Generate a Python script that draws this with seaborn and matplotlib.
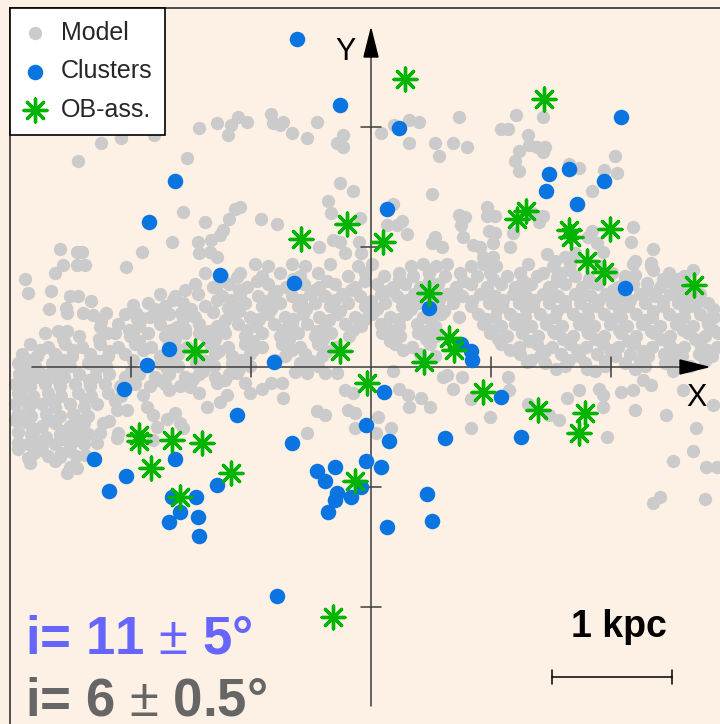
import matplotlib
matplotlib.use("Agg")
import matplotlib.pyplot as plt
from matplotlib.patches import Polygon
import seaborn as sns
import pandas as pd

# Positions in the Galactic X-Y plane, kpc, origin at the axis crossing
cluster_x = [-0.62, -0.26, 0.23, 2.08, -1.63, -1.85, 0.13, 1.48, 1.65, 1.94, 1.46, 1.72,
             -1.26, -0.64, 2.12, 0.48, -1.68, -1.87, -0.81, 0.75, 0.83, 0.84, -2.06, -1.12,
             0.11, -0.04, 0.15, 1.08, 1.25, 0.62, -0.66, -2.31, -1.63, -0.04, 0.08, -0.45,
             -0.30, -0.38, -0.08, -0.28, -0.30, -0.17, -0.36, -2.04, -1.28, -2.18, -1.66,
             -1.46, -1.59, -1.68, -1.44, -1.43, 0.47, 0.51, 0.13, -0.78]
cluster_y = [2.73, 2.18, 1.99, 2.08, 1.55, 1.21, 1.32, 1.61, 1.65, 1.55, 1.47, 1.36,
             0.77, 0.70, 0.66, 0.49, 0.15, 0.02, 0.04, 0.19, 0.13, 0.06, -0.18, -0.40,
             -0.21, -0.48, -0.62, -0.25, -0.58, -0.59, -0.63, -0.77, -0.77, -0.78, -0.83, -0.87,
             -0.83, -0.95, -1.00, -1.05, -1.11, -1.08, -1.21, -0.91, -0.98, -1.03, -1.08,
             -1.08, -1.21, -1.29, -1.25, -1.41, -1.06, -1.28, -1.33, -1.91]

ob_x = [0.28, 1.44, -0.58, -0.20, 0.10, 1.29, 1.22, 1.65, 1.67, 1.99, 1.80, 1.94, 2.69,
        0.48, -1.47, -0.26, 0.65, 0.69, 0.44, -0.03, 0.93, 1.39, 1.78, 1.73, -1.93, -1.93,
        -1.66, -1.41, -1.83, -1.17, -1.59, -0.13, -0.32]
ob_y = [2.40, 2.23, 1.07, 1.19, 1.04, 1.30, 1.23, 1.14, 1.08, 1.15, 0.88, 0.79, 0.68,
        0.62, 0.13, 0.13, 0.24, 0.14, 0.04, -0.13, -0.21, -0.36, -0.38, -0.55, -0.57, -0.62,
        -0.61, -0.63, -0.84, -0.88, -1.08, -0.95, -2.08]

model_xy = [
    # outer field, upper left
    (-1.43, 1.99), (-1.28, 2.03), (-1.17, 2.02), (-1.19, 1.93), (-1.11, 2.08), (-2.25, 1.87),
    (-2.08, 1.91), (-1.81, 1.93), (-2.44, 1.72), (-1.53, 1.74), (-1.57, 1.29), (-1.38, 1.21),
    (-1.13, 1.32), (-1.18, 1.23), (-1.23, 1.14), (-1.26, 1.10), (-1.33, 1.06), (-1.66, 1.04),
    (-1.44, 1.04), (-1.43, 0.95), (-1.34, 0.96), (-1.28, 0.92), (-1.91, 0.96), (-2.59, 0.98),
    (-2.45, 0.96), (-2.41, 0.96), (-2.57, 0.85), (-2.45, 0.85), (-2.38, 0.85), (-2.04, 0.83),
    (-2.63, 0.78), (-2.88, 0.73), (-2.86, 0.62), (-2.67, 0.63), (-2.51, 0.59), (-2.44, 0.59),
    (-2.33, 0.55), (-2.68, 0.48), (-2.54, 0.49), (-2.53, 0.45), (-2.40, 0.45), (-2.32, 0.43),
    (-2.21, 0.45), (-2.25, 0.38), (-2.26, 0.33), (-2.20, 0.28), (-1.98, 0.52), (-1.96, 0.45),
    (-1.91, 0.41), (-1.77, 0.43), (-1.58, 0.45), (-1.53, 0.49), (-1.32, 0.46), (-1.29, 0.67),
    (-1.28, 0.56), (-1.19, 0.49), (-1.15, 0.52), (-1.12, 0.75), (-2.61, 0.30), (-2.53, 0.30),
    (-1.98, 0.27), (-1.62, 0.33), (-1.55, 0.32), (-1.43, 0.28), (-1.23, 0.32),
    # outer field, upper centre
    (-1.03, 2.04), (-0.83, 2.11), (-0.82, 2.03), (-0.76, 2.02), (-0.73, 2.04), (-0.66, 1.95),
    (-0.53, 1.91), (-0.45, 2.04), (-0.23, 1.93), (-0.28, 1.87), (-0.23, 1.83), (0.08, 1.95),
    (0.19, 2.02), (0.32, 2.06), (0.40, 2.04), (0.32, 1.87), (0.53, 1.87), (0.57, 1.76),
    (0.68, 1.87), (0.73, 2.08), (0.80, 1.83), (-0.26, 1.53), (-0.15, 1.47), (-0.36, 1.38),
    (-0.33, 1.28), (-0.09, 1.24), (-0.92, 1.23), (-0.78, 1.19), (0.51, 1.44), (0.18, 1.36),
    (0.13, 1.18), (0.22, 1.18), (0.26, 1.22), (0.30, 1.11), (0.53, 1.08), (0.51, 1.03),
    (0.59, 1.00), (0.73, 1.27), (0.78, 1.25), (0.75, 1.18), (0.77, 1.08), (0.85, 1.02),
    (-0.43, 1.00), (-0.32, 1.06), (-0.26, 1.04), (-0.10, 1.04), (-0.22, 0.95), (-0.08, 0.95),
    (-1.09, 1.33),
    # arm towards upper right
    (1.21, 2.10), (1.43, 2.08), (1.08, 1.98), (1.14, 1.98), (1.31, 1.93), (1.32, 1.85),
    (1.38, 1.83), (1.45, 1.83), (1.43, 1.79), (1.23, 1.80), (1.20, 1.72), (1.23, 1.63),
    (1.65, 1.69), (1.73, 1.66), (2.03, 1.76), (1.94, 1.64), (2.05, 1.62), (1.84, 1.47),
    (0.97, 1.33), (0.97, 1.26), (1.03, 1.26), (1.34, 1.28), (1.43, 1.26), (1.40, 1.21),
    (0.98, 1.13), (1.03, 1.12), (1.02, 1.03), (0.91, 1.00), (1.16, 1.00), (1.18, 1.12),
    (0.93, 0.92), (1.02, 0.92), (1.01, 0.86), (2.18, 1.17), (2.17, 1.04), (2.35, 0.98),
    (2.20, 0.88), (2.33, 0.87), (2.35, 0.81), (2.43, 0.73), (2.55, 0.73), (2.68, 0.81),
    (2.72, 0.54), (1.47, 0.94), (1.53, 0.88), (1.62, 0.92), (1.70, 0.95), (1.84, 1.13),
    (1.81, 1.08), (1.88, 1.03), (1.93, 0.96), (1.43, 0.78), (1.55, 0.75), (1.65, 0.81),
    (1.85, 0.70), (2.20, 0.77), (2.30, 0.70),
    # below the X axis, right
    (1.14, -0.08), (0.99, -0.42), (1.31, -0.31), (1.48, -0.40), (1.57, -0.44), (1.63, -0.26),
    (1.73, -0.19), (1.90, -0.18), (1.93, -0.23), (1.93, -0.33), (2.08, -0.21), (2.18, -0.19),
    (2.20, -0.36), (1.97, -0.58), (2.46, -0.40), (2.71, -0.51), (2.68, -0.70), (2.52, -0.78),
    (2.79, -0.83), (2.88, -0.83), (2.35, -1.13), (2.41, -1.08), (2.78, -1.10), (2.60, -0.19),
    (2.85, -0.32), (1.80, -0.02), (2.27, -0.11), (2.33, -0.15), (0.18, -0.03), (0.23, -0.18),
    (0.31, -0.23), (0.42, -0.26), (0.49, -0.33), (0.32, -0.33), (0.17, -0.51), (0.06, -0.42),
    (0.04, -0.55), (0.83, -0.51), (0.60, -0.08), (0.68, -0.18), (0.83, -0.27), (1.15, -0.19),
    (1.30, 0.04),
    # below the X axis, centre
    (-0.22, -0.19), (-0.15, -0.22), (-0.73, -0.26), (-0.45, -0.37), (-0.38, -0.40), (-0.19, -0.36),
    (-0.13, -0.38), (-0.13, -0.51), (-0.53, -0.55), (0.63, -0.07), (0.76, -0.08), (-1.01, -0.22),
    (-0.91, -0.18), (-0.83, -0.13), (-1.05, -0.13), (-0.74, -0.13), (-0.28, -0.05), (-0.63, -0.04),
    (-0.53, -0.05), (-0.38, -0.05),
    # below the X axis, left
    (-1.12, -0.05), (-1.28, -0.13), (-1.20, -0.23), (-1.26, -0.29), (-1.37, -0.33), (-1.43, -0.22),
    (-1.51, -0.17), (-1.68, -0.19), (-1.57, -0.51), (-1.59, -0.47), (-1.63, -0.38), (-1.70, -0.43),
    (-1.78, -0.50), (-1.82, -0.61), (-1.82, -0.40), (-1.87, -0.33), (-1.90, -0.23), (-2.11, -0.55),
    (-2.12, -0.59), (-2.03, -0.36), (-2.12, -0.36), (-2.23, -0.47), (-2.26, -0.55), (-2.28, -0.63),
    (-2.38, -0.73), (-2.45, -0.84), (-2.51, -0.83), (-2.53, -0.88), (-2.59, -0.75), (-2.63, -0.78),
    (-2.84, -0.80), (-2.86, -0.76), (-2.94, -0.68), (-2.94, -0.63), (-2.94, -0.54), (-2.97, -0.44),
    (-2.84, -0.32), (-2.89, -0.17), (-2.93, -0.13), (-2.87, -0.03), (-2.76, -0.05),
    # dense tail, far left
    (-2.93, -0.06), (-2.79, -0.08), (-2.68, -0.06), (-2.56, -0.08), (-2.43, -0.06), (-2.30, -0.08),
    (-2.18, -0.06), (-2.05, -0.08), (-1.93, -0.06), (-1.80, -0.08), (-1.68, -0.06), (-1.55, -0.08),
    (-1.43, -0.06), (-1.30, -0.08), (-1.18, -0.06),
    (-2.97, -0.14), (-2.84, -0.16), (-2.72, -0.14), (-2.59, -0.16), (-2.47, -0.14), (-2.34, -0.16),
    (-2.22, -0.14), (-2.09, -0.16), (-1.97, -0.14), (-1.84, -0.16), (-1.72, -0.14), (-1.59, -0.16),
    (-2.94, -0.22), (-2.82, -0.24), (-2.69, -0.22), (-2.58, -0.24), (-2.44, -0.22), (-2.33, -0.24),
    (-2.19, -0.22), (-2.08, -0.24),
    (-2.97, -0.31), (-2.86, -0.33), (-2.74, -0.31), (-2.63, -0.33), (-2.51, -0.31), (-2.39, -0.33),
    (-2.28, -0.31),
    (-2.94, -0.39), (-2.83, -0.41), (-2.71, -0.39), (-2.59, -0.41), (-2.48, -0.39), (-2.36, -0.41),
    (-2.86, -0.47), (-2.74, -0.49), (-2.63, -0.47), (-2.51, -0.49), (-2.39, -0.47),
    (-2.83, -0.56), (-2.71, -0.58), (-2.59, -0.56), (-2.48, -0.58), (-2.36, -0.56),
    (-2.86, -0.64), (-2.74, -0.66), (-2.63, -0.64), (-2.51, -0.66), (-2.39, -0.64),
    (-2.81, -0.72), (-2.69, -0.74), (-2.58, -0.72), (-2.46, -0.74),
    (-2.87, -0.02), (-2.59, -0.03), (-2.29, -0.02), (-2.00, -0.03), (-1.70, -0.02), (-1.40, -0.03),
    (-1.10, -0.02),
    (-2.90, -0.11), (-2.62, -0.10), (-2.35, -0.11), (-2.05, -0.10), (-1.77, -0.11), (-1.48, -0.10),
    (-1.22, -0.11),
    (-2.90, -0.27), (-2.64, -0.28), (-2.38, -0.27), (-2.13, -0.28),
    (-2.90, -0.44), (-2.65, -0.45), (-2.42, -0.44), (-2.18, -0.45),
    (-2.80, -0.52), (-2.57, -0.53), (-2.43, -0.52),
    (-2.80, -0.61), (-2.57, -0.60), (-2.45, -0.61),
    (-2.75, -0.69), (-2.52, -0.70),
    # main band
    (-0.97, 0.86), (-0.86, 0.84), (-0.66, 0.86), (-0.55, 0.84), (-0.34, 0.86), (-0.11, 0.84),
    (0.01, 0.86), (0.33, 0.84), (0.43, 0.86), (0.54, 0.84), (0.63, 0.86), (0.83, 0.84),
    (0.93, 0.86), (1.04, 0.84), (1.31, 0.86), (1.52, 0.84), (1.66, 0.86), (1.91, 0.84),
    (2.18, 0.86), (2.33, 0.84),
    (-1.38, 0.78), (-1.24, 0.76), (-1.09, 0.78), (-0.91, 0.76), (-0.76, 0.78), (-0.59, 0.76),
    (-0.44, 0.78), (-0.19, 0.76), (-0.05, 0.78), (0.11, 0.76), (0.23, 0.78), (0.35, 0.76),
    (0.48, 0.78), (0.62, 0.76), (0.74, 0.78), (0.88, 0.76), (0.99, 0.78), (1.13, 0.76),
    (1.24, 0.78), (1.38, 0.76), (1.58, 0.78), (1.70, 0.76), (2.01, 0.78), (2.12, 0.76),
    (2.48, 0.78), (2.61, 0.76),
    (-1.25, 0.72), (-0.95, 0.72), (-0.65, 0.73), (-0.37, 0.72), (-0.05, 0.72), (0.23, 0.73),
    (0.48, 0.72), (0.77, 0.72), (1.02, 0.73), (1.27, 0.72), (1.55, 0.72), (1.82, 0.73),
    (2.12, 0.72), (2.47, 0.72),
    (-1.47, 0.69), (-1.32, 0.67), (-1.18, 0.69), (-1.03, 0.67), (-0.86, 0.69), (-0.71, 0.67),
    (-0.56, 0.69), (-0.43, 0.67), (-0.30, 0.69), (-0.13, 0.67), (0.05, 0.69), (0.18, 0.67),
    (0.28, 0.69), (0.41, 0.67), (0.56, 0.69), (0.71, 0.67), (0.83, 0.69), (0.97, 0.67),
    (1.08, 0.69), (1.20, 0.67), (1.33, 0.69), (1.48, 0.67), (1.62, 0.69), (1.76, 0.67),
    (1.89, 0.69), (2.06, 0.67), (2.18, 0.69), (2.41, 0.67), (2.53, 0.69), (2.66, 0.67),
    (-1.55, 0.64), (-1.10, 0.64), (-0.78, 0.63), (-0.47, 0.64), (-0.17, 0.64), (0.13, 0.63),
    (0.42, 0.64), (0.70, 0.64), (0.97, 0.63), (1.24, 0.64), (1.50, 0.64), (1.77, 0.63),
    (2.02, 0.64), (2.30, 0.64), (2.57, 0.63),
    (-1.76, 0.61), (-1.63, 0.59), (-1.44, 0.61), (-1.24, 0.59), (-1.09, 0.61), (-0.94, 0.59),
    (-0.81, 0.61), (-0.66, 0.59), (-0.51, 0.61), (-0.38, 0.59), (-0.24, 0.61), (-0.09, 0.59),
    (0.08, 0.61), (0.22, 0.59), (0.36, 0.61), (0.49, 0.59), (0.63, 0.61), (0.76, 0.59),
    (0.91, 0.61), (1.03, 0.59), (1.18, 0.61), (1.29, 0.59), (1.43, 0.61), (1.56, 0.59),
    (1.70, 0.61), (1.83, 0.59), (1.96, 0.61), (2.08, 0.59), (2.24, 0.61), (2.37, 0.59),
    (2.49, 0.61), (2.62, 0.59), (2.74, 0.61),
    (-1.65, 0.56), (-1.17, 0.56), (-0.87, 0.55), (-0.58, 0.56), (-0.30, 0.56), (0.00, 0.55),
    (0.30, 0.56), (0.57, 0.56), (0.84, 0.55), (1.10, 0.56), (1.36, 0.56), (1.62, 0.55),
    (1.90, 0.56), (2.16, 0.56), (2.43, 0.55), (2.68, 0.56),
    (-1.86, 0.53), (-1.72, 0.51), (-1.57, 0.53), (-1.38, 0.51), (-1.05, 0.53), (-0.91, 0.51),
    (-0.76, 0.53), (-0.61, 0.51), (-0.47, 0.53), (-0.34, 0.51), (-0.19, 0.53), (-0.05, 0.51),
    (0.12, 0.53), (0.26, 0.51), (0.39, 0.53), (0.53, 0.51), (0.68, 0.53), (0.83, 0.51),
    (0.98, 0.53), (1.09, 0.51), (1.23, 0.53), (1.35, 0.51), (1.48, 0.53), (1.62, 0.51),
    (1.74, 0.53), (1.88, 0.51), (2.01, 0.53), (2.14, 0.51), (2.28, 0.53), (2.43, 0.51),
    (2.56, 0.53), (2.69, 0.51), (2.81, 0.53),
    (-1.80, 0.48), (-1.50, 0.48), (-1.10, 0.47), (-0.83, 0.48), (-0.54, 0.48), (-0.26, 0.47),
    (0.05, 0.48), (0.33, 0.48), (0.61, 0.47), (1.05, 0.48), (1.29, 0.48), (1.55, 0.47),
    (1.81, 0.48), (2.07, 0.48), (2.35, 0.47), (2.62, 0.48), (2.85, 0.48),
    (-2.05, 0.44), (-1.84, 0.42), (-1.68, 0.44), (-1.47, 0.42), (-1.16, 0.44), (-1.01, 0.42),
    (-0.86, 0.44), (-0.72, 0.42), (-0.57, 0.44), (-0.43, 0.42), (-0.28, 0.44), (-0.13, 0.42),
    (0.01, 0.44), (0.16, 0.42), (0.29, 0.44), (0.43, 0.42), (0.58, 0.44), (0.73, 0.42),
    (0.89, 0.44), (1.03, 0.42), (1.16, 0.44), (1.28, 0.42), (1.41, 0.44), (1.53, 0.42),
    (1.68, 0.44), (1.81, 0.42), (1.94, 0.44), (2.08, 0.42), (2.21, 0.44), (2.34, 0.42),
    (2.48, 0.44), (2.61, 0.42), (2.74, 0.44), (2.86, 0.42),
    (-1.95, 0.40), (-1.57, 0.40), (-1.22, 0.39), (-0.93, 0.40), (-0.65, 0.40), (-0.35, 0.39),
    (-0.05, 0.40), (0.23, 0.40), (0.50, 0.39), (0.96, 0.40), (1.22, 0.40), (1.47, 0.39),
    (1.74, 0.40), (2.01, 0.40), (2.28, 0.39), (2.55, 0.40), (2.80, 0.40),
    (-2.11, 0.36), (-1.93, 0.34), (-1.76, 0.36), (-1.59, 0.34), (-1.43, 0.36), (-1.28, 0.34),
    (-1.11, 0.36), (-0.96, 0.34), (-0.81, 0.36), (-0.66, 0.34), (-0.53, 0.36), (-0.38, 0.34),
    (-0.22, 0.36), (-0.08, 0.34), (0.08, 0.36), (0.23, 0.34), (0.38, 0.36), (0.53, 0.34),
    (0.93, 0.36), (1.08, 0.34), (1.20, 0.36), (1.33, 0.34), (1.46, 0.36), (1.59, 0.34),
    (1.73, 0.36), (1.86, 0.34), (1.99, 0.36), (2.13, 0.34), (2.26, 0.36), (2.41, 0.34),
    (2.54, 0.36), (2.68, 0.34), (2.81, 0.36),
    (-2.02, 0.31), (-1.67, 0.31), (-1.35, 0.30), (-1.03, 0.31), (-0.73, 0.31), (-0.45, 0.30),
    (-0.15, 0.31), (0.16, 0.31), (0.46, 0.30), (1.01, 0.31), (1.27, 0.31), (1.52, 0.30),
    (1.80, 0.31), (2.07, 0.31), (2.33, 0.30), (2.60, 0.31), (2.85, 0.31),
    (-2.72, 0.28), (-2.43, 0.26), (-2.13, 0.28), (-2.01, 0.26), (-1.86, 0.28), (-1.72, 0.26),
    (-1.55, 0.28), (-1.38, 0.26), (-1.22, 0.28), (-1.05, 0.26), (-0.91, 0.28), (-0.76, 0.26),
    (-0.61, 0.28), (-0.47, 0.26), (-0.33, 0.28), (-0.18, 0.26), (0.09, 0.28), (0.24, 0.26),
    (0.39, 0.28), (0.54, 0.26), (0.99, 0.28), (1.13, 0.26), (1.26, 0.28), (1.39, 0.26),
    (1.53, 0.28), (1.68, 0.26), (1.81, 0.28), (1.94, 0.26), (2.08, 0.28), (2.21, 0.26),
    (2.36, 0.28), (2.49, 0.26), (2.64, 0.28), (2.78, 0.26), (2.89, 0.28),
    (-2.57, 0.23), (-2.27, 0.23), (-1.93, 0.22), (-1.63, 0.23), (-1.30, 0.23), (-0.98, 0.22),
    (-0.68, 0.23), (-0.40, 0.23), (0.16, 0.22), (0.46, 0.23), (1.06, 0.23), (1.32, 0.22),
    (1.60, 0.23), (1.87, 0.23), (2.14, 0.22), (2.42, 0.23), (2.70, 0.23),
    (-2.84, 0.19), (-2.69, 0.17), (-2.55, 0.19), (-2.41, 0.17), (-2.26, 0.19), (-2.11, 0.17),
    (-1.97, 0.19), (-1.83, 0.17), (-1.68, 0.19), (-1.53, 0.17), (-1.34, 0.19), (-1.19, 0.17),
    (-1.05, 0.19), (-0.91, 0.17), (-0.74, 0.19), (-0.59, 0.17), (-0.44, 0.19), (-0.29, 0.17),
    (0.20, 0.19), (0.34, 0.17), (0.49, 0.19), (1.08, 0.19), (1.23, 0.17), (1.38, 0.19),
    (1.51, 0.17), (1.66, 0.19), (1.79, 0.17), (1.93, 0.19), (2.06, 0.17), (2.19, 0.19),
    (2.34, 0.17), (2.48, 0.19), (2.61, 0.17), (2.74, 0.19), (2.88, 0.17),
    (-2.76, 0.14), (-2.48, 0.14), (-2.18, 0.13), (-1.90, 0.14), (-1.60, 0.14), (-1.27, 0.13),
    (-0.98, 0.14), (-0.66, 0.14), (-0.37, 0.13), (0.27, 0.14), (1.16, 0.14), (1.45, 0.13),
    (1.72, 0.14), (1.99, 0.14), (2.27, 0.13), (2.54, 0.14), (2.81, 0.14),
    (-2.91, 0.11), (-2.78, 0.09), (-2.63, 0.11), (-2.49, 0.09), (-2.34, 0.11), (-2.19, 0.09),
    (-2.05, 0.11), (-1.76, 0.09), (-1.61, 0.11), (-1.46, 0.09), (-1.30, 0.11), (-1.16, 0.09),
    (-1.01, 0.11), (-0.72, 0.09), (-0.55, 0.11), (-0.41, 0.09), (0.41, 0.11), (0.53, 0.09),
    (1.24, 0.11), (1.41, 0.09), (1.58, 0.11), (1.73, 0.09), (1.88, 0.11), (2.03, 0.09),
    (2.16, 0.11), (2.31, 0.09), (2.44, 0.11), (2.59, 0.09), (2.73, 0.11), (2.84, 0.09),
    (-2.85, 0.06), (-2.57, 0.06), (-2.27, 0.05), (-1.98, 0.06), (-1.68, 0.06), (-1.38, 0.05),
    (-1.08, 0.06), (-0.80, 0.06), (-0.50, 0.05), (1.33, 0.06), (1.65, 0.06), (1.95, 0.05),
    (2.24, 0.06), (2.52, 0.06), (2.78, 0.05),
    (-2.94, 0.03), (-2.80, 0.01), (-2.66, 0.03), (-2.51, 0.01), (-2.36, 0.03), (-2.21, 0.01),
    (-1.76, 0.03), (-1.61, 0.01), (-1.46, 0.03), (-1.31, 0.01), (-1.16, 0.03), (-1.01, 0.01),
    (-0.59, 0.03), (-0.44, 0.01), (1.45, 0.03), (1.62, 0.01), (1.78, 0.03), (1.95, 0.01),
    (2.12, 0.03), (2.28, 0.01), (2.45, 0.03), (2.66, 0.01),
    (1.54, -0.02), (1.87, -0.03), (2.20, -0.02), (2.52, -0.03),
]

legend_labels = ["Model", "Clusters", "OB-ass."]
incl_text = ["i= 11 $\\pm$ 5°", "i= 6 $\\pm$ 0.5°"]
scale_label = "1 kpc"
scale_kpc = 1.0

PEACH = "#fdf1e6"
GREY = "#cbcbcb"
BLUE = "#0a74e0"
GREEN = "#00b400"
AXIS = "#3c3c3c"

sns.set_theme(style="white")
plt.rcParams["font.family"] = ["Liberation Sans", "DejaVu Sans"]
plt.rcParams["mathtext.fontset"] = "custom"
plt.rcParams["mathtext.rm"] = "Liberation Sans"

W, H = 720, 724
X0, Y0, PPK = 371, 367, 120.0  # pixel origin and pixels per kpc

fig = plt.figure(figsize=(W / 100, H / 100), dpi=100, facecolor=PEACH)
ax = fig.add_axes([0, 0, 1, 1])
ax.set_facecolor(PEACH)
ax.set_xlim(-X0 / PPK, (W - X0) / PPK)
ax.set_ylim((Y0 - H) / PPK, Y0 / PPK)
for s in ax.spines.values():
    s.set_visible(False)
ax.set_xticks([])
ax.set_yticks([])

model = pd.DataFrame(model_xy, columns=["x", "y"])
clusters = pd.DataFrame({"x": cluster_x, "y": cluster_y})
obass = pd.DataFrame({"x": ob_x, "y": ob_y})

sns.scatterplot(data=model, x="x", y="y", ax=ax, color=GREY, s=92, linewidth=0,
                label=legend_labels[0], zorder=2)

# coordinate axes with arrows and 1 kpc ticks
def kx(px):
    return (px - X0) / PPK


def ky(py):
    return (Y0 - py) / PPK


ax.plot([kx(32), kx(684)], [0, 0], color=AXIS, lw=1.1, zorder=3)
ax.plot([0, 0], [ky(706), ky(54)], color=AXIS, lw=1.1, zorder=3)
ax.add_patch(Polygon([[kx(708), 0], [kx(680), 7 / PPK], [kx(680), -7 / PPK]],
                     closed=True, color="black", zorder=3))
ax.add_patch(Polygon([[0, ky(29)], [7 / PPK, ky(57)], [-7 / PPK, ky(57)]],
                     closed=True, color="black", zorder=3))
tick = 10 / PPK
for t in [-2, -1, 1, 2]:
    ax.plot([t, t], [-tick, tick], color=AXIS, lw=1.1, zorder=3)
    ax.plot([-tick, tick], [t, t], color=AXIS, lw=1.1, zorder=3)

sns.scatterplot(data=clusters, x="x", y="y", ax=ax, color=BLUE, s=125, linewidth=0,
                label=legend_labels[1], zorder=4)
sns.scatterplot(data=obass, x="x", y="y", ax=ax, color=GREEN, marker=(8, 2, 0), s=270,
                linewidth=2.4, label=legend_labels[2], zorder=5)

ax.set_xlabel("")
ax.set_ylabel("")

# frame lines along the left and top edge
ax.plot([kx(10), kx(10)], [ky(8), ky(H + 5)], color="#333333", lw=1.2, zorder=6)
ax.plot([kx(10), kx(W + 5)], [ky(8), ky(8)], color="#333333", lw=1.2, zorder=6)

# scale bar
sb_x0 = kx(552)
sb_y = ky(677)
cap = 7 / PPK
ax.plot([sb_x0, sb_x0 + scale_kpc], [sb_y, sb_y], color="black", lw=1.1, zorder=3)
ax.plot([sb_x0, sb_x0], [sb_y - cap, sb_y + cap], color="black", lw=1.1, zorder=3)
ax.plot([sb_x0 + scale_kpc] * 2, [sb_y - cap, sb_y + cap], color="black", lw=1.1, zorder=3)

def fx(px):
    return px / W


def fy(py):
    return 1 - py / H


fig.text(fx(345.5), fy(60), "Y", fontsize=22, ha="center", va="baseline", color="black")
fig.text(fx(696.5), fy(406), "X", fontsize=22, ha="center", va="baseline", color="black")
fig.text(fx(619), fy(637), scale_label, fontsize=27, fontweight="bold", ha="center",
         va="baseline", color="black")
fig.text(fx(25), fy(653), incl_text[0], fontsize=38, fontweight="bold", ha="left",
         va="baseline", color="#6666ff")
fig.text(fx(25), fy(716), incl_text[1], fontsize=38, fontweight="bold", ha="left",
         va="baseline", color="#666666")

leg = ax.legend(loc="upper left", bbox_to_anchor=(fx(10), fy(8)),
                bbox_transform=fig.transFigure, borderaxespad=0, frameon=True,
                fancybox=False, framealpha=1, facecolor="white", edgecolor="black",
                fontsize=18, borderpad=0.5, handlelength=1.0, handletextpad=0.54,
                labelspacing=0.59, scatterpoints=1)
leg.get_frame().set_linewidth(1.2)
leg.set_zorder(10)

fig.savefig("out.png", dpi=100, facecolor=PEACH)
